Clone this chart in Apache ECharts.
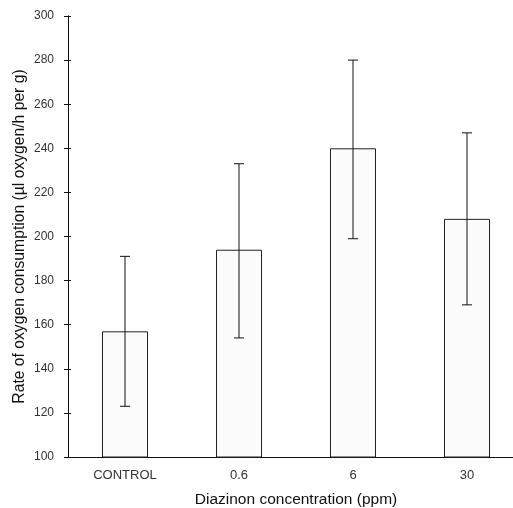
<!DOCTYPE html>
<html><head><meta charset="utf-8">
<script src="https://cdn.jsdelivr.net/npm/echarts@6/dist/echarts.min.js"></script>
<style>html,body{margin:0;padding:0;background:#fff;overflow:hidden}#c{width:513px;height:508px}</style>
</head><body><div id="c"></div>
<script>
const categories = ['CONTROL', '0.6', '6', '30'];
const means = [157, 194, 240, 208];
const errLow = [123, 154, 199, 169];
const errHigh = [191, 233, 280, 247];
const yTicks = [100, 120, 140, 160, 180, 200, 220, 240, 260, 280, 300];

const chart = echarts.init(document.getElementById('c'));
const font = 'Liberation Sans, Arial, sans-serif';
const errData = categories.map((c, i) => [i, errLow[i], errHigh[i]]);
const yBase = {
  type: 'value', min: yTicks[0], max: yTicks[yTicks.length - 1], interval: 20,
  splitLine: { show: false },
  axisLine: { show: true, lineStyle: { color: '#111', width: 1 } }
};
chart.setOption({
  animation: false,
  grid: { left: 68, width: 456, top: 16, height: 441, containLabel: false, outerBoundsMode: 'none' },
  xAxis: {
    type: 'category', data: categories,
    axisLine: { lineStyle: { color: '#111', width: 1 } },
    axisTick: { show: false },
    axisLabel: { color: '#333', fontFamily: font, fontSize: 13, margin: 12 },
    name: 'Diazinon concentration (ppm)', nameLocation: 'middle', nameGap: 35, nameMoveOverlap: false,
    nameTextStyle: { color: '#111', fontFamily: font, fontSize: 15.5 }
  },
  yAxis: [
    Object.assign({}, yBase, {
      axisTick: { show: true, length: 4, lineStyle: { color: '#111' } },
      axisLabel: { color: '#333', fontFamily: font, fontSize: 12, margin: 14 },
      name: 'Rate of oxygen consumption (µl oxygen/h per g)', nameLocation: 'middle', nameGap: 40, nameMoveOverlap: false,
      nameTextStyle: { color: '#111', fontFamily: font, fontSize: 15.7 }
    }),
    Object.assign({}, yBase, {
      position: 'left',
      axisTick: { show: true, inside: true, length: 3, lineStyle: { color: '#111' } },
      axisLabel: { show: false }
    })
  ],
  series: [
    {
      type: 'bar', data: means, barWidth: 46,
      itemStyle: { color: '#fbfbfb', borderColor: '#222', borderWidth: 1 }
    },
    {
      type: 'custom', data: errData, z: 10,
      renderItem: function (params, api) {
        const x = api.value(0);
        const lo = api.coord([x, api.value(1)]);
        const hi = api.coord([x, api.value(2)]);
        const hw = 5;
        const style = { stroke: '#111', lineWidth: 1 };
        return {
          type: 'group',
          children: [
            { type: 'line', shape: { x1: hi[0], y1: hi[1], x2: lo[0], y2: lo[1] }, style: style },
            { type: 'line', shape: { x1: hi[0] - hw, y1: hi[1], x2: hi[0] + hw, y2: hi[1] }, style: style },
            { type: 'line', shape: { x1: lo[0] - hw, y1: lo[1], x2: lo[0] + hw, y2: lo[1] }, style: style }
          ]
        };
      }
    }
  ]
});
</script></body></html>
